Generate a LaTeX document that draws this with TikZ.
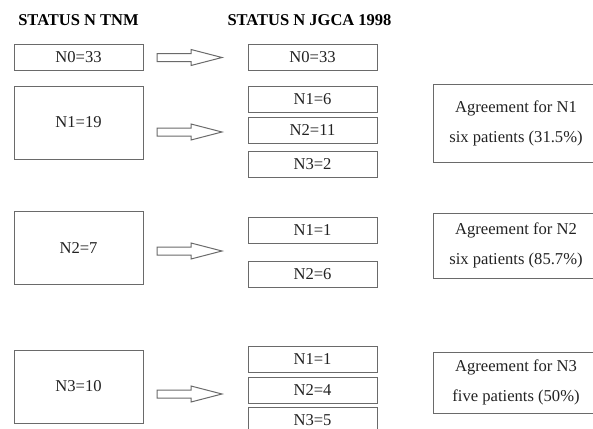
\documentclass[tikz,border=0pt]{standalone}
\usepackage{fontspec}
\setmainfont{Liberation Serif}
\definecolor{boxline}{HTML}{6A6A6A}
\definecolor{txt}{HTML}{222222}
\tikzset{
  box/.style={draw=boxline, line width=0.9pt, rectangle, inner sep=0pt, text=txt,
    font=\fontsize{16.6}{30}\selectfont, align=center},
  small/.style={box, minimum width=129, minimum height=26},
  big/.style={box, minimum width=129, minimum height=73},
  agree/.style={box, minimum width=166},
  header/.style={font=\fontsize{16.5}{18}\selectfont\bfseries, text=black, inner sep=0pt},
  blockarrow/.pic={\draw[boxline, line width=1pt, fill=white, line join=miter]
    (0,-4) -- (34,-4) -- (34,-8) -- (65,0) -- (34,8) -- (34,4) -- (0,4) -- cycle;}
}
\begin{document}
\begin{tikzpicture}[x=1pt,y=-1pt]
\useasboundingbox (0,0) rectangle (593,428);
\clip (0,0) rectangle (593,428);
\node[header] (h1) at (78.5,20) {STATUS N TNM};
\node[header] (h2) at (309.5,20) {STATUS N JGCA 1998};
% left column
\node[small] (l0) at (78.5,57) {N0=33};
\node[big] (l1) at (78.5,122.5) {N1=19};
\node[big] (l2) at (78.5,247.5) {N2=7};
\node[big] (l3) at (78.5,386.5) {N3=10};
% arrows
\pic at (157,57.5) {blockarrow};
\pic at (157,132) {blockarrow};
\pic at (157,251) {blockarrow};
\pic at (157,394) {blockarrow};
% middle column
\node[small] (m00) at (312.5,57) {N0=33};
\node[small] (m11) at (312.5,99) {N1=6};
\node[small] (m12) at (312.5,130.5) {N2=11};
\node[small] (m13) at (312.5,164) {N3=2};
\node[small] (m21) at (312.5,230) {N1=1};
\node[small] (m22) at (312.5,274) {N2=6};
\node[small] (m31) at (312.5,359) {N1=1};
\node[small] (m32) at (312.5,390) {N2=4};
\node[small] (m33) at (312.5,420) {N3=5};
% right column
\node[agree, minimum height=78] (r1) at (516,123) {Agreement for N1\\six patients (31.5\%)};
\node[agree, minimum height=65] (r2) at (516,245.5) {Agreement for N2\\six patients (85.7\%)};
\node[agree, minimum height=61] (r3) at (516,382.5) {Agreement for N3\\five patients (50\%)};
\end{tikzpicture}
\end{document}
